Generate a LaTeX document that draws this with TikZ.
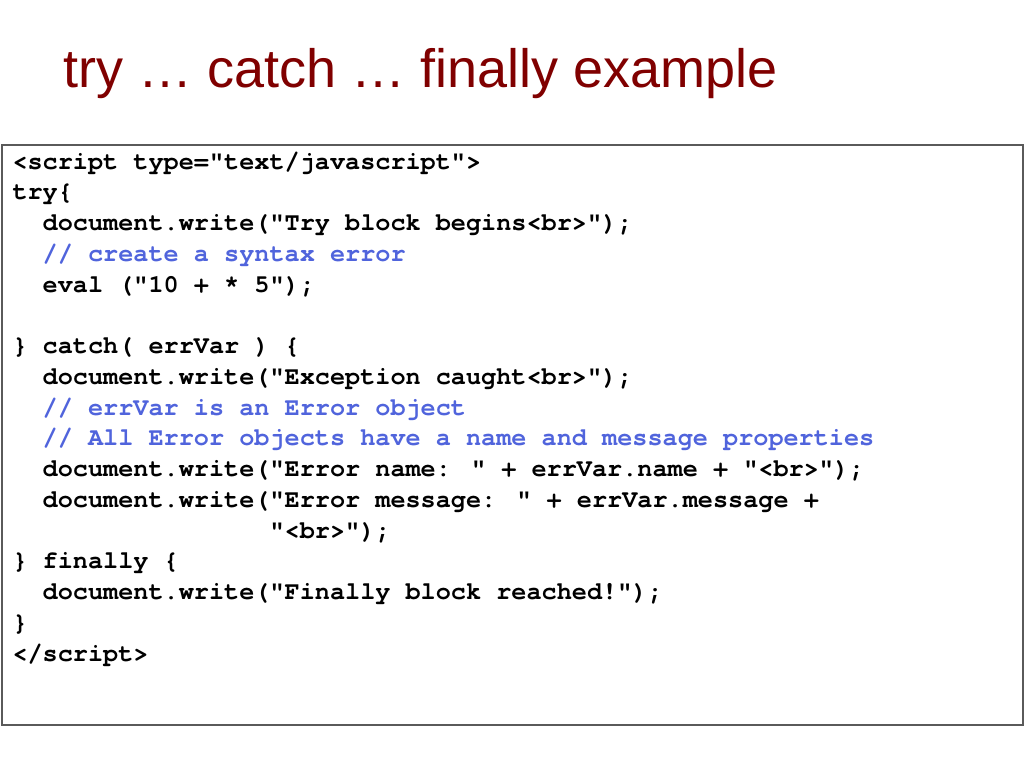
\documentclass[tikz,border=0pt]{standalone}
\usepackage{fontspec}
\newfontfamily\titlefont{Liberation Sans}
\newfontfamily\codefont[Ligatures=NoCommon]{TeX Gyre Cursor}

\definecolor{titlered}{RGB}{128,0,0}
\definecolor{commentblue}{RGB}{80,100,220}
\definecolor{framegray}{RGB}{90,90,90}

\tikzset{every picture/.style={line width=0.75pt}}
\tikzset{
  titletext/.style={anchor=base west, inner sep=0pt, text=titlered, font=\titlefont\fontsize{40.5}{48}\selectfont},
  codeline/.style={anchor=base west, inner sep=0pt, font=\codefont\bfseries\fontsize{18.9}{23}\selectfont},
  comment/.style={codeline, text=commentblue},
  framebox/.style={draw=framegray, line width=1.5pt}
}

\begin{document}
\begin{tikzpicture}[x=0.75pt,y=0.75pt,yscale=-1,xscale=1]
        \useasboundingbox (0,0) rectangle (1024,768); %set diagram to 1024 x 768

        %Text Node: title
        \node[titletext] (title) at (63,87) {try … catch … finally example};

        %Shape: Rectangle: code frame
        \draw[framebox] (2,145) rectangle (1023,725);

        %Text Node: code lines
        \node[codeline] (script) at (12,169) {<script type="text/javascript">};
        \node[codeline] (try) at (12,199.75) {try\{};
        \node[codeline] (trywrite) at (12,230.5) {\ \ document.write("Try block begins<br>");};
        \node[comment] (trynote) at (12,261.25) {\ \ // create a syntax error};
        \node[codeline] (eval) at (12,292) {\ \ eval ("10 + * 5");};
        \node[codeline] (catch) at (12,353.5) {\} catch( errVar ) \{};
        \node[codeline] (catchwrite) at (12,384.25) {\ \ document.write("Exception caught<br>");};
        \node[comment] (catchnote) at (12,415) {\ \ // errVar is an Error object};
        \node[comment] (propnote) at (12,445.75) {\ \ // All Error objects have a name and message properties};
        \node[codeline] (namewrite) at (12,476.5) {\ \ document.write("Error name: " + errVar.name + "<br>");};
        \node[codeline] (msgwrite) at (12,507.25) {\ \ document.write("Error message: " + errVar.message +};
        \node[codeline] (msgend) at (12,538) {\ \ \ \ \ \ \ \ \ \ \ \ \ \ \ \ \ "<br>");};
        \node[codeline] (finally) at (12,568.75) {\} finally \{};
        \node[codeline] (finwrite) at (12,599.5) {\ \ document.write("Finally block reached!");};
        \node[codeline] (close) at (12,630.25) {\}};
        \node[codeline] (endscript) at (12,661) {</script>};

    \end{tikzpicture}
\end{document}
